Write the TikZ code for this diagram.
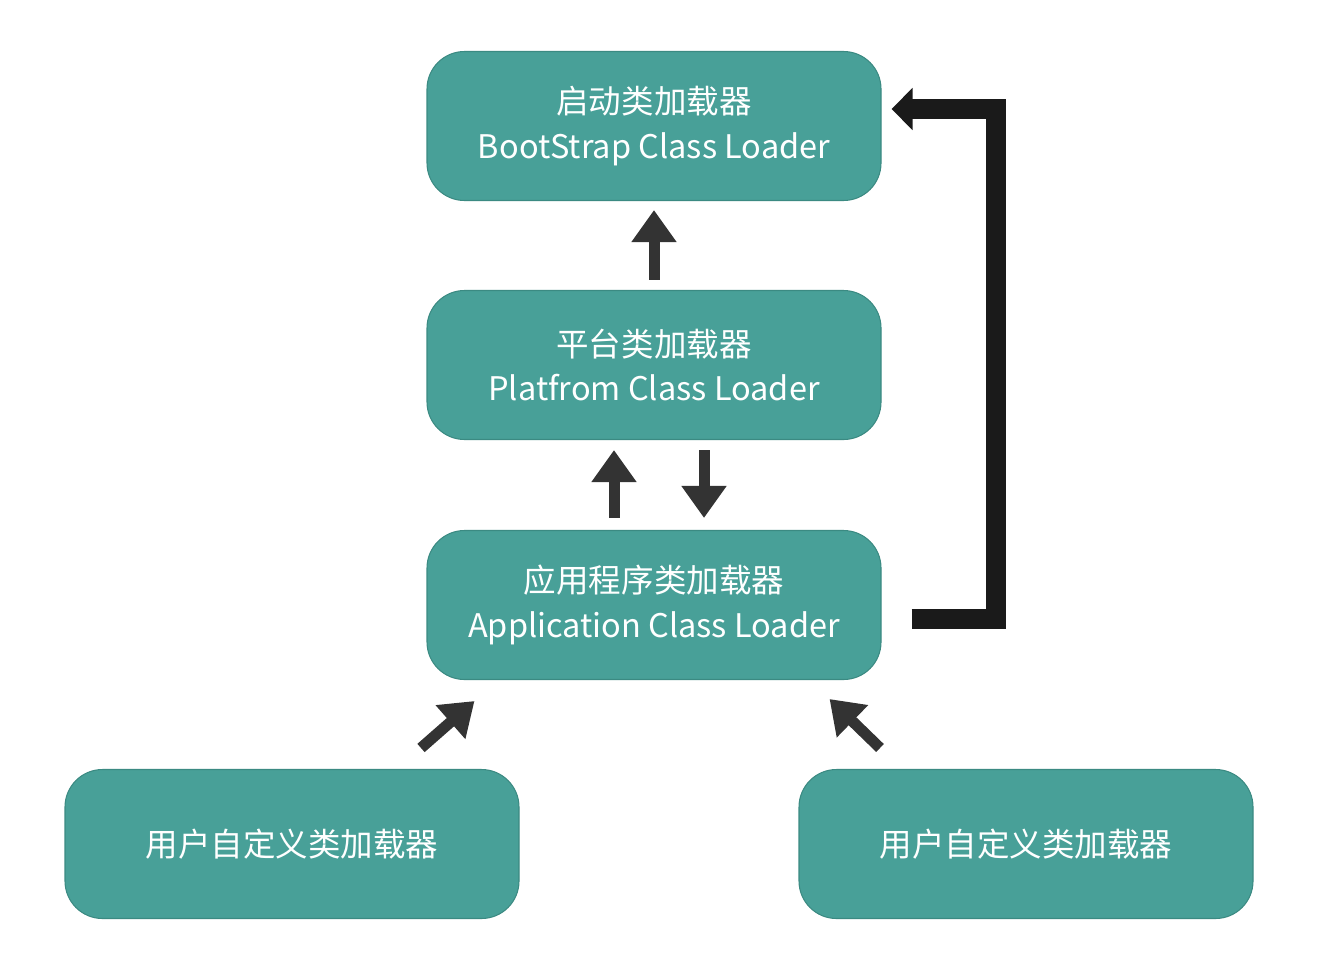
\documentclass[tikz,border=0pt]{standalone}
\usepackage{fontspec}
\setmainfont{Noto Sans CJK SC}
\usepackage{tikz}
\usetikzlibrary{arrows.meta}
\usetikzlibrary{positioning}

\definecolor{boxteal}{HTML}{48A098}
\definecolor{boxedge}{HTML}{3B8A82}
\definecolor{arrowgray}{HTML}{333333}
\definecolor{arrowblack}{HTML}{1A1A1A}

\tikzset{
  loaderbox/.style={draw=boxedge, line width=0.6pt, fill=boxteal, rounded corners=0.75cm,
    minimum width=9.08cm, minimum height=2.98cm, text=white, align=center,
    font=\fontsize{18.5}{25.5}\selectfont},
  grayarrow/.style={draw=arrowgray, line width=0.22cm,
    -{Triangle[length=0.64cm, width=0.86cm]}},
  blackarrow/.style={draw=arrowblack, line width=0.4cm, line join=miter,
    -{Triangle[length=0.42cm, width=0.82cm]}}
}

\begin{document}
\begin{tikzpicture}
			\useasboundingbox (0,0) rectangle (26.48,-19.28);
			
			\node[loaderbox] (boot) at (13.08, -2.52) {启动类加载器\\BootStrap Class Loader};
			\node[loaderbox] (plat) at (13.08, -7.30) {平台类加载器\\Platfrom Class Loader};
			\node[loaderbox] (app) at (13.08, -12.10) {应用程序类加载器\\Application Class Loader};
			
			\node[loaderbox] (userL) at (5.84, -16.88) {用户自定义类加载器};
			\node[loaderbox] (userR) at (20.52, -16.88) {用户自定义类加载器};
			
			\draw[grayarrow] ([yshift=0.2cm]plat.north) -- ([yshift=-0.18cm]boot.south);
			\draw[grayarrow] ([xshift=-0.8cm,yshift=0.24cm]app.north) -- ([xshift=-0.8cm,yshift=-0.2cm]plat.south);
			\draw[grayarrow] ([xshift=1cm,yshift=-0.2cm]plat.south) -- ([xshift=1cm,yshift=0.24cm]app.north);
			\draw[grayarrow] ([shift={(2.58,0.42)}]userL.north) -- ([shift={(0.96,-0.42)}]app.south west);
			\draw[grayarrow] ([shift={(-2.92,0.42)}]userR.north) -- ([shift={(-1.04,-0.38)}]app.south east);
			
			\draw[blackarrow] ([xshift=0.6cm,yshift=-0.28cm]app.east) -- ++(1.68,0) |- ([xshift=0.2cm,yshift=0.34cm]boot.east);
		\end{tikzpicture}
\end{document}
